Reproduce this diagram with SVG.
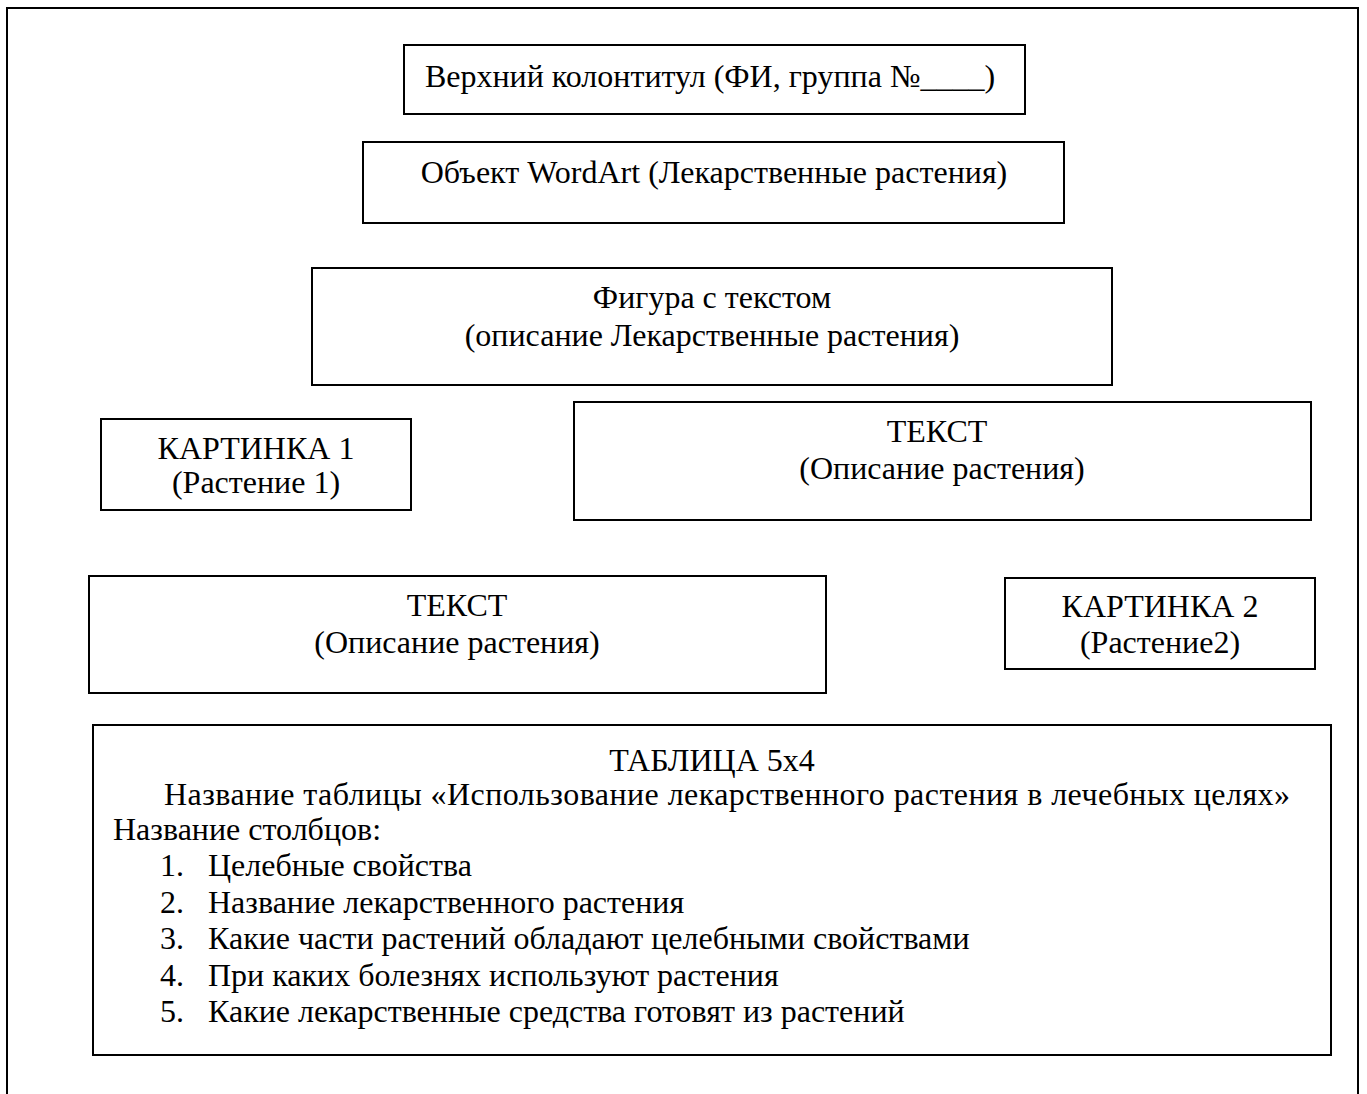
<svg xmlns="http://www.w3.org/2000/svg" width="1367" height="1094" viewBox="0 0 1367 1094">
<style>
.box{fill:none;stroke:#000;stroke-width:2}
text{font-family:"Liberation Serif","Times New Roman",serif;font-size:32px;fill:#000}
.c{text-anchor:middle}
</style>
<rect width="1367" height="1094" fill="#fff"/>
<rect id="page" class="box" x="7" y="8" width="1351" height="1100"/>
<g id="header">
<rect class="box" x="404" y="45" width="621" height="69"/>
<text class="c" x="710" y="87">Верхний колонтитул (ФИ, группа №____)</text>
</g>
<g id="wordart">
<rect class="box" x="363" y="142" width="701" height="81"/>
<text class="c" x="714" y="183">Объект WordArt (Лекарственные растения)</text>
</g>
<g id="figure">
<rect class="box" x="312" y="268" width="800" height="117"/>
<text class="c" x="712" y="308">Фигура с текстом</text>
<text class="c" x="712" y="346">(описание Лекарственные растения)</text>
</g>
<g id="picture1">
<rect class="box" x="101" y="419" width="310" height="91"/>
<text class="c" x="256" y="459">КАРТИНКА 1</text>
<text class="c" x="256" y="493">(Растение 1)</text>
</g>
<g id="text1">
<rect class="box" x="574" y="402" width="737" height="118"/>
<text class="c" x="937" y="442">ТЕКСТ</text>
<text class="c" x="942" y="479">(Описание растения)</text>
</g>
<g id="text2">
<rect class="box" x="89" y="576" width="737" height="117"/>
<text class="c" x="457" y="616">ТЕКСТ</text>
<text class="c" x="457" y="653">(Описание растения)</text>
</g>
<g id="picture2">
<rect class="box" x="1005" y="578" width="310" height="91"/>
<text class="c" x="1160" y="617">КАРТИНКА 2</text>
<text class="c" x="1160" y="653">(Растение2)</text>
</g>
<g id="table">
<rect class="box" x="93" y="725" width="1238" height="330"/>
<text class="c" x="712" y="771">ТАБЛИЦА 5х4</text>
<text x="164" y="805" textLength="1126" lengthAdjust="spacing">Название таблицы «Использование лекарственного растения в лечебных целях»</text>
<text x="113" y="840">Название столбцов:</text>
<text x="160" y="876">1.</text><text x="208" y="876">Целебные свойства</text>
<text x="160" y="913">2.</text><text x="208" y="913">Название лекарственного растения</text>
<text x="160" y="949">3.</text><text x="208" y="949">Какие части растений обладают целебными свойствами</text>
<text x="160" y="986">4.</text><text x="208" y="986">При каких болезнях используют растения</text>
<text x="160" y="1022">5.</text><text x="208" y="1022">Какие лекарственные средства готовят из растений</text>
</g>
<g id="connectors"></g>
</svg>
